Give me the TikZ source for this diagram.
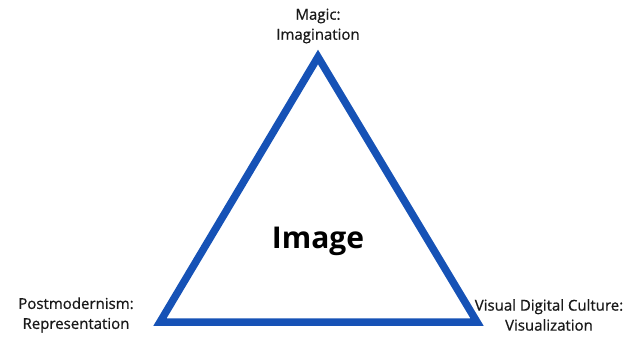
\documentclass[tikz,border=0pt]{standalone}
\usepackage{fontspec}
\setmainfont{Open Sans}
\newfontfamily\labelfont[FakeBold=0.7]{Open Sans}
\usetikzlibrary{positioning}
\definecolor{TriBlue}{RGB}{22, 82, 182}
\definecolor{TextGray}{RGB}{25, 25, 25}

\begin{document}
\begin{tikzpicture}[x=1pt, y=-1pt,
    cornerlabel/.style={align=center, font=\labelfont\fontsize{15}{20}\selectfont, text=TextGray, inner sep=0pt},
    sideline/.style={draw=TriBlue, line width=7.5pt, line join=miter}
]
\useasboundingbox (0,0) rectangle (625,337);

% Corners of the triangle
\coordinate (top) at (318,57);
\coordinate (left) at (160,322);
\coordinate (right) at (477,322);

% Triangle
\draw[sideline] (top) -- (right) -- (left) -- cycle;

% Center text
\node[font=\fontsize{30}{34}\selectfont\bfseries, text=black] (image) at (318,241) {Image};

% Corner labels
\node[cornerlabel] (magic) at (318,26) {Magic:\\Imagination};
\node[cornerlabel] (postmod) at (76,315) {Postmodernism:\\Representation};
\node[cornerlabel] (visual) at (549,315) {Visual Digital Culture:\\Visualization};

\end{tikzpicture}
\end{document}
